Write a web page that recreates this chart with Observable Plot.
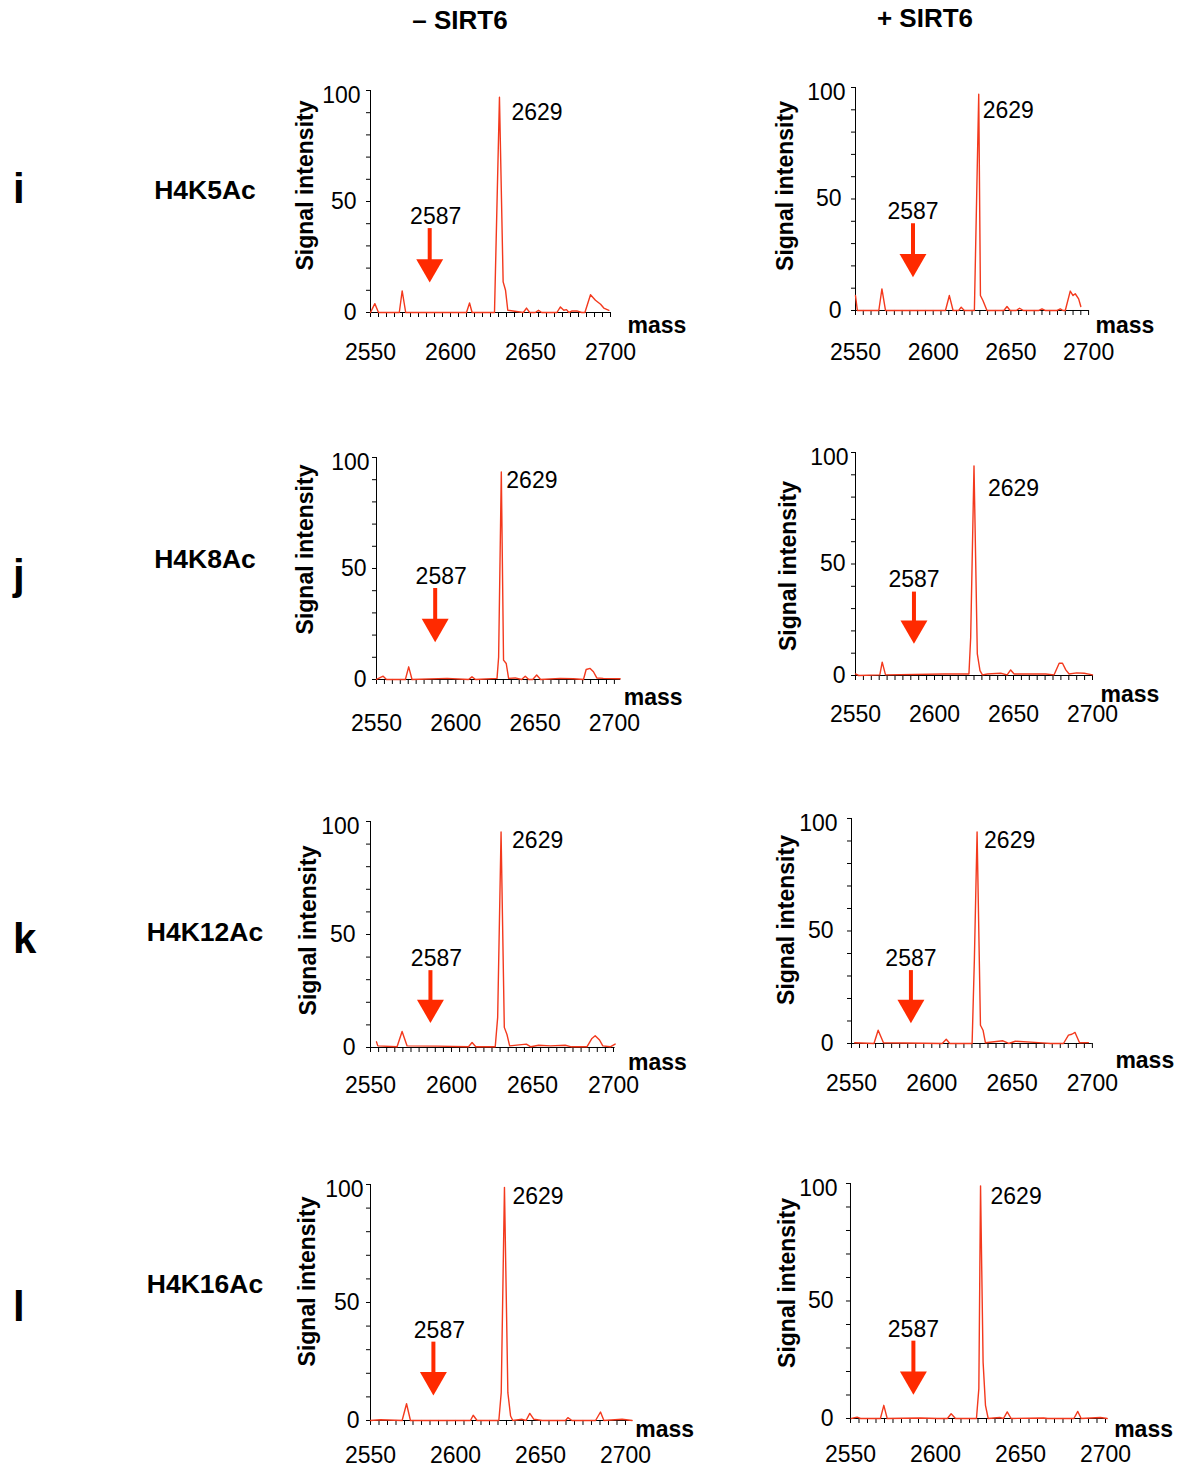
<!DOCTYPE html>
<html><head><meta charset="utf-8">
<script src="https://cdn.jsdelivr.net/npm/d3@7"></script>
<script src="https://cdn.jsdelivr.net/npm/@observablehq/plot@0.6"></script>
<style>
html,body{margin:0;padding:0;background:#fff;overflow:hidden;}
#root{position:relative;width:1178px;height:1469px;overflow:hidden;font-family:"Liberation Sans",Arial,sans-serif;color:#000;background:#fff;}
.lbl{position:absolute;white-space:nowrap;line-height:1;font-weight:bold;}
.panel{position:absolute;}
.panel svg{max-width:none;display:block;}
</style></head><body><div id="root"></div>
<script>
// ---------- labels ----------
const conditions = ["\u2013 SIRT6", "+ SIRT6"];
const rowLetters = ["i", "j", "k", "l"];
const rowLabels = ["H4K5Ac", "H4K8Ac", "H4K12Ac", "H4K16Ac"];
const xTickLabels = [2550, 2600, 2650, 2700];
const yTickLabels = [0, 50, 100];
const arrowMass = 2587;
const arrowText = "2587";
const peakText = "2629";

// ---------- spectra (mass, relative signal intensity) ----------
const massK5Minus = [2550, 2552.7, 2555, 2568, 2569.8, 2572, 2610, 2611.9, 2613.5, 2627.5, 2630.6, 2632.9, 2634.4, 2635.8, 2645.5, 2647.5, 2649.5, 2653, 2655, 2657, 2666.5, 2668.7, 2670.8, 2672.5, 2674, 2676, 2679, 2682, 2684, 2687.5, 2690.6, 2693.8, 2695.8, 2699];
const signalK5Minus = [0, 4, 0, 0, 9.7, 0, 0, 4.3, 0, 0, 97, 13.8, 10, 1, 0, 2, 0, 0, 1, 0, 0, 2.5, 1, 1.3, 0, 0.7, 0.7, 0, 0, 8, 5.5, 3.7, 2, 1];

const massK5Plus = [2550, 2551.2, 2565, 2567, 2569.3, 2607.9, 2610.4, 2612.8, 2616.4, 2618, 2620, 2626.5, 2629.3, 2630.4, 2632, 2634.6, 2645.5, 2647.5, 2649.5, 2653.5, 2655.6, 2658, 2668, 2670, 2672, 2679.8, 2681.8, 2683.5, 2685, 2688.2, 2690, 2691.4, 2693.6, 2695];
const signalK5Plus = [6.7, 0, 0, 9.7, 0, 0, 6.7, 0, 0, 1.5, 0, 0, 97, 6.7, 4.5, 0, 0, 1.8, 0, 0, 1, 0, 0, 0.7, 0, 0, 0.7, 0, 0, 8.7, 6.7, 7.5, 5.2, 1.8];

const massK8Minus = [2550, 2554.2, 2556.3, 2568.2, 2570.3, 2572.4, 2594.5, 2608, 2610.2, 2612.5, 2626, 2627, 2628.7, 2630.1, 2631.8, 2633.3, 2637.5, 2641.5, 2643.8, 2646, 2648.5, 2651, 2653.5, 2665.8, 2674.2, 2680.5, 2682.2, 2684.7, 2686.8, 2688.9, 2693, 2703.6];
const signalK8Minus = [0, 1.5, 0, 0, 5.7, 0, 0.5, 0, 1.2, 0, 0.5, 10, 93.5, 8.7, 7.2, 0.5, 0.7, 0, 1.5, 0, 0, 2, 0, 0.5, 0.3, 0, 4.5, 5, 3.5, 0.7, 0.5, 0.3];

const massK8Plus = [2550, 2552, 2565.4, 2566.9, 2569, 2606, 2621.8, 2622.9, 2625, 2627.1, 2628.8, 2630.3, 2633.5, 2641.9, 2646, 2648.2, 2650.4, 2661, 2670.4, 2675.7, 2678.9, 2681, 2683.1, 2685.2, 2690, 2694.7, 2700];
const signalK8Plus = [0.7, 0, 0.3, 6, 0.3, 0.7, 0.7, 17, 94, 9.7, 2.2, 0.3, 0.7, 1, 0.3, 2.5, 0.7, 0.7, 0.7, 0.3, 5.5, 5.5, 2.5, 0.7, 1.2, 1, 0.3];

const massK12Minus = [2553.7, 2554.5, 2566.4, 2569.5, 2572.6, 2591.1, 2610.5, 2612.7, 2615, 2627, 2628.5, 2630.6, 2632.6, 2634.3, 2635.9, 2646.2, 2649, 2653.8, 2661, 2670.2, 2674, 2683.6, 2686.7, 2688.7, 2691.4, 2693.4, 2698, 2701];
const signalK12Minus = [2.5, 0.7, 0.3, 7.1, 0.7, 0.6, 0.3, 2.2, 0.3, 0.3, 13.3, 95.4, 8.9, 5.6, 0.7, 1.5, 0.3, 1, 0.7, 1, 0.3, 0.3, 4, 5.2, 3.3, 0.7, 0.3, 1.5];

const massK12Plus = [2552, 2564, 2566.6, 2569.9, 2606.5, 2609, 2611.2, 2625.1, 2626.5, 2628.2, 2630.3, 2631.9, 2633.4, 2644.3, 2647.9, 2652, 2666.5, 2674, 2682, 2685.1, 2687.2, 2689.2, 2692, 2697.5];
const signalK12Plus = [0.3, 0, 5.9, 0.3, 0, 1.9, 0, 0, 37, 94, 8.1, 5.9, 0.3, 1.2, 0, 1, 0.4, 0, 0, 3.7, 4.1, 4.9, 0.3, 0.4];

const massK16Minus = [2550, 2555.9, 2568.6, 2571.2, 2573.5, 2593.1, 2608.8, 2610.4, 2612.7, 2625.5, 2626.9, 2628.8, 2630.8, 2632.4, 2633.7, 2639.2, 2641.5, 2643.7, 2646.1, 2651, 2664.7, 2666.1, 2668.5, 2682.4, 2685.3, 2687.3, 2698, 2703.9];
const signalK16Minus = [0, 0.3, 0, 7.1, 0, 0, 0, 2.2, 0, 0, 11.8, 98.8, 11.8, 1.9, 0, 0.5, 0, 3, 0.5, 0, 0, 1.2, 0, 0, 3.6, 0, 0.5, 0];

const massK16Plus = [2550.5, 2553.9, 2555.9, 2567.6, 2569.6, 2571.6, 2591.2, 2601, 2607, 2609.2, 2611.8, 2624.1, 2625.5, 2626.5, 2628, 2629.4, 2631, 2637.8, 2640, 2642.2, 2644.5, 2663.7, 2666, 2681.4, 2683.7, 2685.7, 2697, 2701];
const signalK16Plus = [0, 0.6, 0, 0, 5.6, 0, 0.2, 0, 0, 2, 0, 0, 12.7, 99, 24, 5.6, 0, 0.4, 0, 2.8, 0, 0.2, 0, 0, 3, 0, 0.4, 0];

// annotation levels (signal units), panel order: i-, i+, j-, j+, k-, k+, l-, l+
const arrowTipLevel = [13.5, 14.9, 16.8, 14.2, 10.8, 9.0, 10.6, 10.1];
const arrowTopLevel = [37.8, 38.9, 41.0, 37.4, 34.0, 32.4, 33.2, 32.9];
const peakLabelLevel = [90, 89.7, 89.6, 83.7, 91.6, 90.2, 95, 94.6];

const massSeries = [massK5Minus, massK5Plus, massK8Minus, massK8Plus, massK12Minus, massK12Plus, massK16Minus, massK16Plus];
const signalSeries = [signalK5Minus, signalK5Plus, signalK8Minus, signalK8Plus, signalK12Minus, signalK12Plus, signalK16Minus, signalK16Plus];

// ---------- layout (pixels) ----------
const layout = [
  {ax: 370, by: 312, ty: 90, pp50: 80, xmax: 2700, ylabDx: -65, ylabDy: -16, massDx: 17, massDy: 13, tickDy: 40, yPad: 14, peakDx: 12},
  {ax: 855, by: 310, ty: 87, pp50: 77.7, xmax: 2700, ylabDx: -70, ylabDy: -13, massDx: 7, massDy: 15, tickDy: 42, yPad: 14, peakDx: 4},
  {ax: 376, by: 679, ty: 457, pp50: 79.3, xmax: 2704, ylabDx: -71, ylabDy: -19, massDx: 3, massDy: 18, tickDy: 44, yPad: 10, peakDx: 5},
  {ax: 855, by: 675, ty: 452, pp50: 79, xmax: 2700, ylabDx: -67, ylabDy: 2, massDx: 8, massDy: 19, tickDy: 39, yPad: 10, peakDx: 14},
  {ax: 370, by: 1047, ty: 821, pp50: 81, xmax: 2701, ylabDx: -62, ylabDy: -4, massDx: 13, massDy: 15, tickDy: 38, yPad: 15, peakDx: 11},
  {ax: 851, by: 1043, ty: 818, pp50: 80.3, xmax: 2700, ylabDx: -65, ylabDy: -11, massDx: 23, massDy: 17, tickDy: 40, yPad: 18, peakDx: 7},
  {ax: 370, by: 1420, ty: 1184, pp50: 85, xmax: 2704, ylabDx: -63, ylabDy: -21, massDx: 3, massDy: 9, tickDy: 35, yPad: 11, peakDx: 8},
  {ax: 850, by: 1418, ty: 1183, pp50: 85, xmax: 2701, ylabDx: -63, ylabDy: -18, massDx: 7, massDy: 11, tickDy: 36, yPad: 17, peakDx: 10}
];

const lineRed = "#f3391d";
const arrowRed = "#ff2a00";
const FONT = '"Liberation Sans", Arial, Helvetica, sans-serif';

const root = document.getElementById("root");

function addLabel(text, left, top, size, center) {
  const d = document.createElement("div");
  d.className = "lbl";
  d.textContent = text;
  d.style.fontSize = size + "px";
  d.style.left = left + "px";
  d.style.top = top + "px";
  if (center) d.style.transform = "translateX(-50%)";
  root.appendChild(d);
}

// column headers
addLabel(conditions[0], 460, 7, 26, true);
addLabel(conditions[1], 925, 5, 26, true);
// row letters and row labels
const letterTops = [168, 554, 918, 1286];
const rowLabelTops = [177, 546, 919, 1271];
rowLetters.forEach((t, i) => addLabel(t, 13, letterTops[i], 42, false));
rowLabels.forEach((t, i) => addLabel(t, 205, rowLabelTops[i], 26.5, true));

function panel(k) {
  const L = layout[k];
  const mL = 100, mT = 22, mR = 78, mB = 56;
  const plotW = (L.xmax - 2550) / 50 * L.pp50;
  const plotH = L.by - L.ty;
  const data = massSeries[k].map((m, i) => ({mass: m, signal: signalSeries[k][i]}));
  const peak = d3.greatest(data, d => d.signal);
  const arrow = {mass: arrowMass, top: arrowTopLevel[k], tip: arrowTipLevel[k]};
  const colDx = (k % 2 === 0) ? 6 : 0;
  const topPad = Math.max(L.yPad - 4, 7);
  const chart = Plot.plot({
    width: mL + plotW + mR,
    height: mT + plotH + mB,
    marginLeft: mL, marginRight: mR, marginTop: mT, marginBottom: mB,
    x: {domain: [2550, L.xmax]},
    y: {domain: [0, 100]},
    style: {fontFamily: FONT, fontSize: "23px", color: "#000", background: "transparent", overflow: "visible"},
    marks: [
      Plot.axisX({ticks: d3.range(2550, 2700.01, 5), tickSize: 5, tickFormat: () => "", label: null}),
      Plot.axisY({ticks: d3.range(0, 100.01, 10), tickSize: 4, tickFormat: () => "", label: null}),
      Plot.ruleY([0], {stroke: "#000"}),
      Plot.ruleX([2550], {stroke: "#000"}),
      Plot.text(xTickLabels, {x: d => d, text: d => String(d), frameAnchor: "bottom", lineAnchor: "middle", dy: L.tickDy}),
      Plot.text(yTickLabels.filter(v => v < 100), {y: d => d, text: d => String(d), frameAnchor: "left", textAnchor: "end", lineAnchor: "middle", dx: -L.yPad}),
      Plot.text(yTickLabels.filter(v => v >= 100), {y: d => d, text: d => String(d), frameAnchor: "left", textAnchor: "end", lineAnchor: "middle", dx: -topPad, dy: 5}),
      Plot.text(["Signal intensity"], {text: d => d, frameAnchor: "left", rotate: -90, textAnchor: "middle", lineAnchor: "middle", dx: L.ylabDx, dy: L.ylabDy, fontWeight: "bold", fontSize: 23}),
      Plot.text(["mass"], {text: d => d, frameAnchor: "bottom-right", textAnchor: "start", lineAnchor: "middle", dx: L.massDx, dy: L.massDy, fontWeight: "bold", fontSize: 23}),
      Plot.line(data, {x: "mass", y: "signal", stroke: lineRed, strokeWidth: 1.4}),
      Plot.ruleX([arrow], {x: "mass", y1: "top", y2: "tip", stroke: arrowRed, strokeWidth: 4, insetBottom: 14}),
      Plot.dot([arrow], {x: "mass", y: "tip", symbol: "triangle", r: 10, rotate: 180, fill: arrowRed, stroke: "none", dy: -15.6}),
      Plot.text([arrow], {x: "mass", y: "top", text: () => arrowText, lineAnchor: "middle", dx: colDx, dy: -12}),
      Plot.text([peak], {x: "mass", y: peakLabelLevel[k], text: () => peakText, textAnchor: "start", lineAnchor: "middle", dx: L.peakDx})
    ]
  });
  const div = document.createElement("div");
  div.className = "panel";
  div.style.left = (L.ax - mL) + "px";
  div.style.top = (L.ty - mT) + "px";
  div.style.width = (mL + plotW + mR) + "px";
  div.appendChild(chart);
  root.appendChild(div);
}

for (let k = 0; k < 8; k++) panel(k);
</script></body></html>
